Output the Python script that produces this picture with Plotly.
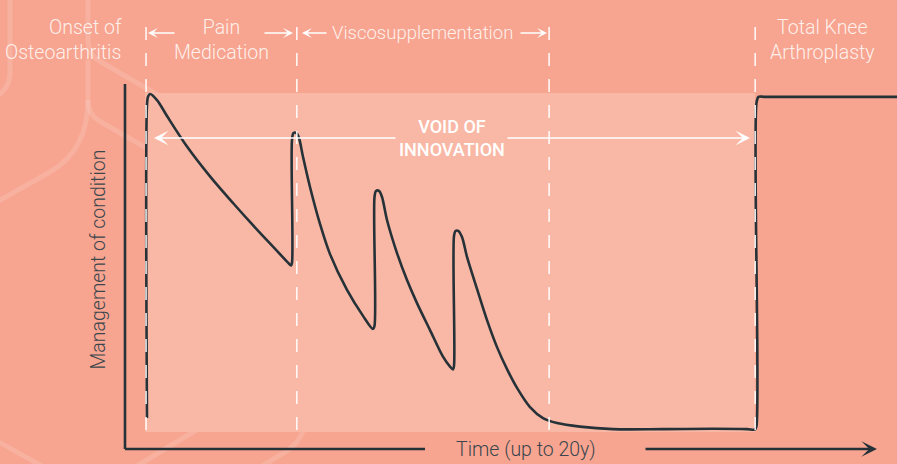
import re
import plotly.graph_objects as go

# ---------------- data ----------------
# conceptual timeline (years since onset, up to ~20y) vs. level of management of the condition
time_years = [
    0.585, 0.585, 0.612, 0.665, 0.851, 1.117, 1.649, 2.261, 2.872, 3.511, 3.936, 4.335, 4.415,
    4.441, 4.441, 4.481, 4.561, 4.628, 4.734, 4.920, 5.186, 5.452, 5.904, 6.330, 6.596,
    6.636, 6.636, 6.676, 6.755, 6.835, 6.968, 7.234, 7.500, 7.766, 8.112, 8.457, 8.644, 8.723,
    8.750, 8.750, 8.790, 8.870, 8.963, 9.096, 9.362, 9.628, 9.894, 10.160, 10.426, 10.771, 11.117,
    11.489, 12.101, 12.979, 14.309, 15.638, 16.543, 16.755,
    16.795, 16.795, 16.848, 17.021, 20.6,
]
management = [
    8.7, 96.9, 99.2, 100.0, 98.3, 93.8, 85.2, 76.8, 69.3, 61.8, 57.0, 52.5, 51.7,
    52.4, 87.0, 89.0, 89.0, 87.6, 82.3, 73.8, 63.4, 54.9, 44.8, 37.5, 33.8,
    34.7, 71.0, 72.7, 72.7, 71.0, 64.5, 55.2, 47.6, 41.1, 33.5, 26.0, 23.2, 22.4,
    23.4, 60.0, 61.4, 61.4, 59.7, 54.1, 45.1, 36.3, 28.7, 22.5, 17.2, 11.8, 8.7,
    7.3, 6.3, 5.6, 5.6, 5.7, 5.6, 5.5,
    6.5, 97.5, 99.2, 99.2, 99.2,
]
phase_bounds = [0.56, 4.57, 11.28, 16.76]          # years: onset, pain meds end, visco end, TKA
phase_labels = ["Onset of<br>Osteoarthritis", "Pain<br>Medication",
                "Viscosupplementation", "Total Knee<br>Arthroplasty"]
void_label = "VOID OF<br>INNOVATION"
x_title = "Time (up to 20y)"
y_title = "Management of condition"

# ---------------- layout geometry ----------------
W, H = 897, 464
X0_PX, PX_PER_YEAR = 125, 37.6
Y0_PX, PX_PER_UNIT = 449, 3.55

def tx(px):   # pixel -> time units (layout helper)
    return (px - X0_PX) / PX_PER_YEAR

def my(py):   # pixel -> management units (layout helper)
    return (Y0_PX - py) / PX_PER_UNIT

def pxp(px):
    return px / W

def pyp(py):
    return 1 - py / H

def path_px(s):
    def rep(m):
        x, y = float(m.group(1)), float(m.group(2))
        return f"{x / W:.5f},{1 - y / H:.5f}"
    return re.sub(r"(-?[\d.]+),(-?[\d.]+)", rep, s)

BG = "#F7A591"
LIGHT = "#F9B8A6"
DARK = "#263238"
GREY_TXT = "#3B464C"
WHITE_TXT = "rgba(255,246,242,0.95)"
FONT = "Roboto, Liberation Sans, Arial, sans-serif"
FS = 19.5

fig = go.Figure()

fig.add_trace(go.Scatter(
    x=time_years, y=management, mode="lines",
    line=dict(color=DARK, width=2.6, shape="spline", smoothing=0.9),
    hoverinfo="skip", showlegend=False,
))

shapes = []
# light band
shapes.append(dict(type="rect", xref="x", yref="y", x0=tx(145), x1=phase_bounds[3], y0=my(432), y1=my(93),
                   fillcolor=LIGHT, line=dict(width=0), layer="below"))
# decorative honeycomb lines
deco = "rgba(255,255,255,0.13)"
for p in [
    "M 88,0 L 88,40 Q 88,55 101,62 L 262,155 Q 307,181 307,230 L 307,410 Q 307,440 282,454 L 262,466",
    "M 88,60 L 88,100 Q 88,115 101,122 L 185,170 Q 227,194 227,240 L 227,390 Q 227,412 208,423 L 137,466",
    "M 88,100 Q 88,150 50,172 L -5,203",
    "M -5,440 L 42,466",
    "M 10,0 L 10,72 Q 10,88 -3,96",
]:
    shapes.append(dict(type="path", xref="paper", yref="paper", path=path_px(p),
                       line=dict(color=deco, width=5), layer="below"))
# axes
shapes.append(dict(type="line", xref="x", yref="y", x0=0, x1=0, y0=0, y1=my(84),
                   line=dict(color=DARK, width=2.6)))
shapes.append(dict(type="line", xref="x", yref="y", x0=0, x1=tx(425), y0=0, y1=0,
                   line=dict(color=DARK, width=2.6)))
# phase dashed lines
for b in phase_bounds:
    shapes.append(dict(type="line", xref="x", yref="paper", x0=b, x1=b, y0=pyp(430), y1=pyp(14),
                       line=dict(color="rgba(255,255,255,0.9)", width=1.6, dash="13px,13px"),
                       layer="above"))

ann = []
tfont = dict(family=FONT, size=FS, color=WHITE_TXT, weight=300)
# phase labels
ann.append(dict(x=phase_bounds[0] - tx(146) + tx(124), y=pyp(40), xref="x", yref="paper",
                text=phase_labels[0], showarrow=False, xanchor="right", yanchor="middle", align="right",
                font=tfont))
ann.append(dict(x=(phase_bounds[0] + phase_bounds[1]) / 2, y=pyp(40), xref="x", yref="paper",
                text=phase_labels[1], showarrow=False, xanchor="center", yanchor="middle", font=tfont))
ann.append(dict(x=(phase_bounds[1] + phase_bounds[2]) / 2, y=pyp(33), xref="x", yref="paper",
                text=phase_labels[2], showarrow=False, xanchor="center", yanchor="middle",
                font=dict(family=FONT, size=18.5, color=WHITE_TXT, weight=300)))
ann.append(dict(x=tx(822), y=pyp(40), xref="x", yref="paper",
                text=phase_labels[3], showarrow=False, xanchor="center", yanchor="middle", font=tfont))
# void label
ann.append(dict(x=(phase_bounds[0] + phase_bounds[3]) / 2 + tx(452) - tx(450.5), y=pyp(138),
                xref="x", yref="paper", text=void_label,
                showarrow=False, xanchor="center", yanchor="middle",
                font=dict(family=FONT, size=18, color="#FFFFFF", weight=500)))
# axis titles
gfont = dict(family=FONT, size=FS, color=GREY_TXT, weight=300)
ann.append(dict(x=pxp(97.5), y=pyp(260), xref="paper", yref="paper", text=y_title, textangle=-90,
                showarrow=False, xanchor="center", yanchor="middle", font=gfont))
ann.append(dict(x=pxp(526), y=pyp(449), xref="paper", yref="paper", text=x_title,
                showarrow=False, xanchor="center", yanchor="middle", font=gfont))

def arrow(head_px, tail_px, y_px, color, width, size, head=3):
    return dict(x=pxp(head_px), y=pyp(y_px), xref="paper", yref="paper", text="",
                showarrow=True, ax=tail_px - head_px, ay=0, axref="pixel", ayref="pixel",
                arrowhead=head, arrowsize=size, arrowwidth=width, arrowcolor=color, standoff=0)

ann.append(arrow(877, 644, 449, DARK, 2.6, 1.0))
ann.append(arrow(154, 397, 138, "#FFFFFF", 1.6, 1.5))
ann.append(arrow(750, 506, 138, "#FFFFFF", 1.6, 1.5))
ann.append(arrow(148, 176, 33, "#FFFFFF", 1.5, 1.1))
ann.append(arrow(293, 263, 33, "#FFFFFF", 1.5, 1.1))
ann.append(arrow(302, 328, 33, "#FFFFFF", 1.5, 1.1))
ann.append(arrow(547, 519, 33, "#FFFFFF", 1.5, 1.1))

fig.update_layout(
    width=W, height=H, margin=dict(l=0, r=0, t=0, b=0),
    paper_bgcolor=BG, plot_bgcolor="rgba(0,0,0,0)",
    xaxis=dict(range=[tx(0), tx(W)], visible=False, fixedrange=True),
    yaxis=dict(range=[my(H), my(0)], visible=False, fixedrange=True),
    shapes=shapes, annotations=ann, showlegend=False,
)

fig.write_html(
    "out.html",
    config={"displayModeBar": False},
    post_script="document.body.style.margin='0';document.body.style.background='" + BG + "';",
)
